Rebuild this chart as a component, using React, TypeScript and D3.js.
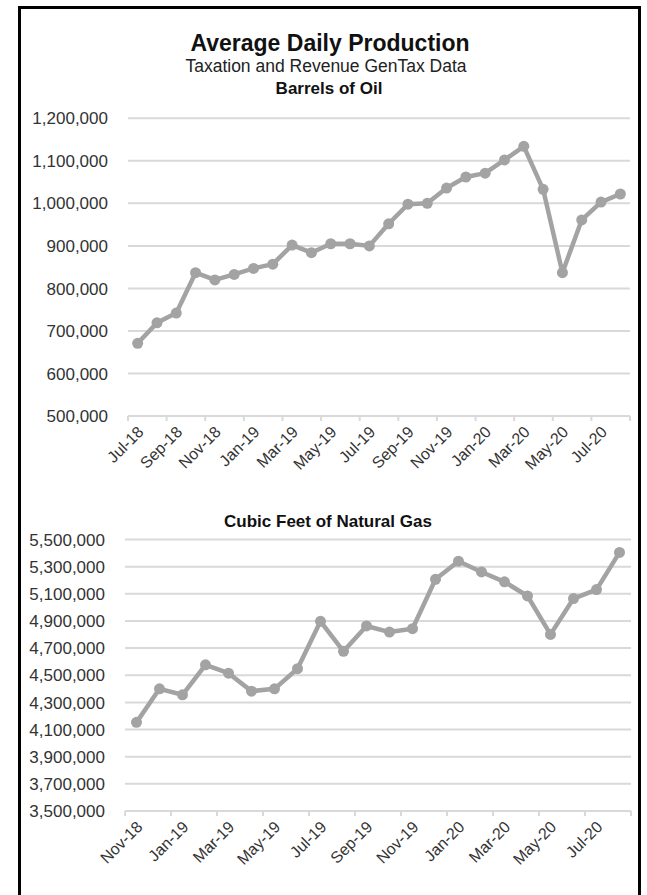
import React from "react";
import * as d3 from "d3";

const oilMonths = [
  "Jul-18", "Aug-18", "Sep-18", "Oct-18", "Nov-18", "Dec-18",
  "Jan-19", "Feb-19", "Mar-19", "Apr-19", "May-19", "Jun-19",
  "Jul-19", "Aug-19", "Sep-19", "Oct-19", "Nov-19", "Dec-19",
  "Jan-20", "Feb-20", "Mar-20", "Apr-20", "May-20", "Jun-20",
  "Jul-20", "Aug-20",
];
const oilValues = [
  671000, 719000, 742000, 837000, 820000, 833000, 847000, 857000, 902000,
  884000, 905000, 905000, 900000, 952000, 998000, 1000000, 1036000, 1062000,
  1071000, 1102000, 1134000, 1033000, 837000, 961000, 1003000, 1022000,
];
const oilTicks = [500000, 600000, 700000, 800000, 900000, 1000000, 1100000, 1200000];

const gasMonths = [
  "Nov-18", "Dec-18", "Jan-19", "Feb-19", "Mar-19", "Apr-19", "May-19",
  "Jun-19", "Jul-19", "Aug-19", "Sep-19", "Oct-19", "Nov-19", "Dec-19",
  "Jan-20", "Feb-20", "Mar-20", "Apr-20", "May-20", "Jun-20", "Jul-20",
  "Aug-20",
];
const gasValues = [
  4153000, 4400000, 4356000, 4577000, 4515000, 4383000, 4400000, 4548000,
  4897000, 4676000, 4863000, 4818000, 4843000, 5207000, 5340000, 5261000,
  5188000, 5084000, 4801000, 5065000, 5131000, 5405000,
];
const gasTicks = [
  3500000, 3700000, 3900000, 4100000, 4300000, 4500000, 4700000, 4900000,
  5100000, 5300000, 5500000,
];

const FONT = "'Liberation Sans', Arial, sans-serif";
const GRID = "#d9d9d9";
const SERIES = "#a3a3a3";
const fmt = d3.format(",");

interface ChartProps {
  title: string;
  titleY: number;
  months: string[];
  values: number[];
  ticks: number[];
  left: number;
  right: number;
  top: number;
  bottom: number;
  labelX: number;
}

const LineChart: React.FC<ChartProps> = ({
  title, titleY, months, values, ticks, left, right, top, bottom, labelX,
}) => {
  const x = d3.scaleBand<string>().domain(months).range([left, right]).padding(0);
  const y = d3
    .scaleLinear()
    .domain([ticks[0], ticks[ticks.length - 1]])
    .range([bottom, top]);
  const cx = (m: string) => (x(m) || 0) + x.bandwidth() / 2;

  const line = d3
    .line<number>()
    .x((_, i) => cx(months[i]))
    .y((d) => y(d));

  // ticks sit between categories, one every two months
  const edges = d3.range(0, months.length + 1, 2).map((i) =>
    i < months.length ? x(months[i]) || 0 : right
  );
  const labelled = months.filter((_, i) => i % 2 === 0);

  return (
    <g>
      <text
        x={(left + right) / 2 - 50}
        y={titleY}
        textAnchor="middle"
        fontFamily={FONT}
        fontWeight="bold"
        fontSize={17}
        fill="#111"
      >
        {title}
      </text>
      {ticks.map((t) => (
        <g key={t}>
          <line x1={left} x2={right} y1={y(t)} y2={y(t)} stroke={GRID} strokeWidth={2} />
          <text
            x={labelX}
            y={y(t)}
            dy="0.36em"
            textAnchor="end"
            fontFamily={FONT}
            fontSize={17}
            fill="#333"
          >
            {fmt(t)}
          </text>
        </g>
      ))}
      {edges.map((ex, i) => (
        <line key={i} x1={ex} x2={ex} y1={bottom} y2={bottom + 5} stroke={GRID} strokeWidth={2} />
      ))}
      {labelled.map((m) => (
        <text
          key={m}
          transform={`translate(${cx(m) - 1},${bottom + 9}) rotate(-45)`}
          textAnchor="end"
          dy="0.7em"
          fontFamily={FONT}
          fontSize={16}
          fill="#333"
        >
          {m}
        </text>
      ))}
      <path d={line(values) || ""} fill="none" stroke={SERIES} strokeWidth={4.5} strokeLinejoin="round" />
      {values.map((v, i) => (
        <circle key={i} cx={cx(months[i])} cy={y(v)} r={5.5} fill={SERIES} />
      ))}
    </g>
  );
};

export default function App() {
  return (
    <svg
      width={647}
      height={895}
      style={{ position: "absolute", left: 0, top: 0, background: "#fff" }}
    >
      <rect x={0} y={0} width={647} height={895} fill="#fff" />
      <rect x={19.5} y={7.5} width={620} height={900} fill="none" stroke="#000" strokeWidth={3} />
      <text x={330} y={51} textAnchor="middle" fontFamily={FONT} fontWeight="bold" fontSize={23} fill="#111">
        Average Daily Production
      </text>
      <text x={326} y={72} textAnchor="middle" fontFamily={FONT} fontSize={17.5} fill="#222">
        Taxation and Revenue GenTax Data
      </text>
      <LineChart
        title="Barrels of Oil"
        titleY={94}
        months={oilMonths}
        values={oilValues}
        ticks={oilTicks}
        left={128}
        right={630}
        top={118.3}
        bottom={416}
        labelX={108}
      />
      <LineChart
        title="Cubic Feet of Natural Gas"
        titleY={527}
        months={gasMonths}
        values={gasValues}
        ticks={gasTicks}
        left={125}
        right={631}
        top={539.5}
        bottom={811}
        labelX={105}
      />
    </svg>
  );
}
